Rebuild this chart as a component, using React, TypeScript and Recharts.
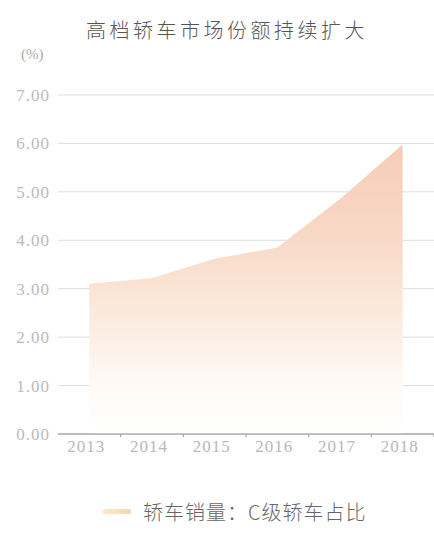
import { AreaChart, Area, XAxis, YAxis, CartesianGrid } from "recharts";

const years = ["2013", "2014", "2015", "2016", "2017", "2018"];
const shareC = [3.1, 3.22, 3.62, 3.85, 4.85, 5.98];
const yTicks = [0, 1, 2, 3, 4, 5, 6, 7];

const data = years.map((year, i) => ({ year, share: shareC[i] }));

const W = 434;
const H = 548;
const PLOT_LEFT = 58;
const BAND = (W - PLOT_LEFT) / years.length;

const serif = "Liberation Serif, DejaVu Serif, serif";
const cjk = "Noto Sans CJK SC, sans-serif";

function YearTick(props: any) {
  const { x, y, payload } = props;
  return (
    <g>
      <line x1={x + BAND / 2} y1={y - 8} x2={x + BAND / 2} y2={y - 5} stroke="#999" strokeWidth={1} />
      <text x={x - 3} y={y + 10} textAnchor="middle" fontFamily={serif} fontSize={17} letterSpacing={1} fill="#b8b8b8">
        {payload.value}
      </text>
    </g>
  );
}

export default function App() {
  return (
    <div style={{ position: "absolute", left: 0, top: 0, width: W, height: H, background: "#fff" }}>
      <div
        style={{
          position: "absolute",
          top: 15,
          left: 10,
          width: W,
          textAlign: "center",
          fontFamily: cjk,
          fontWeight: 300,
          fontSize: 20,
          letterSpacing: 3.5,
          color: "#555",
        }}
      >
        高档轿车市场份额持续扩大
      </div>
      <div
        style={{ position: "absolute", left: 21, top: 46, fontFamily: serif, fontSize: 15, color: "#aaa" }}
      >
        (%)
      </div>
      <AreaChart width={W} height={H} data={data} margin={{ top: 95, right: 0, left: 0, bottom: 84 }}>
        <defs>
          <linearGradient id="areaGrad" x1="0" y1="0" x2="0" y2="1">
            <stop offset="0%" stopColor="#f6ccb6" />
            <stop offset="30%" stopColor="#f8d8c6" />
            <stop offset="50%" stopColor="#fbe4d4" />
            <stop offset="66%" stopColor="#fdefe5" />
            <stop offset="83%" stopColor="#fffaf6" />
            <stop offset="100%" stopColor="#ffffff" />
          </linearGradient>
        </defs>
        <Area
          type="linear"
          dataKey="share"
          stroke="none"
          fill="url(#areaGrad)"
          fillOpacity={1}
          isAnimationActive={false}
        />
        <CartesianGrid vertical={false} stroke="#dedede" />
        <XAxis
          dataKey="year"
          padding={{ left: BAND / 2, right: BAND / 2 }}
          height={30}
          axisLine={{ stroke: "#8a8a8a" }}
          tickLine={false}
          tick={<YearTick />}
        />
        <YAxis
          width={PLOT_LEFT}
          domain={[0, 7]}
          ticks={yTicks}
          tickFormatter={(v: number) => v.toFixed(2)}
          axisLine={false}
          tickLine={false}
          tick={{ fontFamily: serif, fontSize: 17, letterSpacing: 1, fill: "#bbbbbb" }}
        />
      </AreaChart>
      <div
        style={{
          position: "absolute",
          left: 103,
          top: 497,
          display: "flex",
          alignItems: "center",
          fontFamily: cjk,
          fontWeight: 300,
          fontSize: 20,
          letterSpacing: 1,
          color: "#666",
        }}
      >
        <span
          style={{
            display: "inline-block",
            width: 28,
            height: 5,
            background: "linear-gradient(90deg, #fbebc9, #f7d6b8)",
            marginRight: 12,
          }}
        />
        轿车销量：C级轿车占比
      </div>
    </div>
  );
}
